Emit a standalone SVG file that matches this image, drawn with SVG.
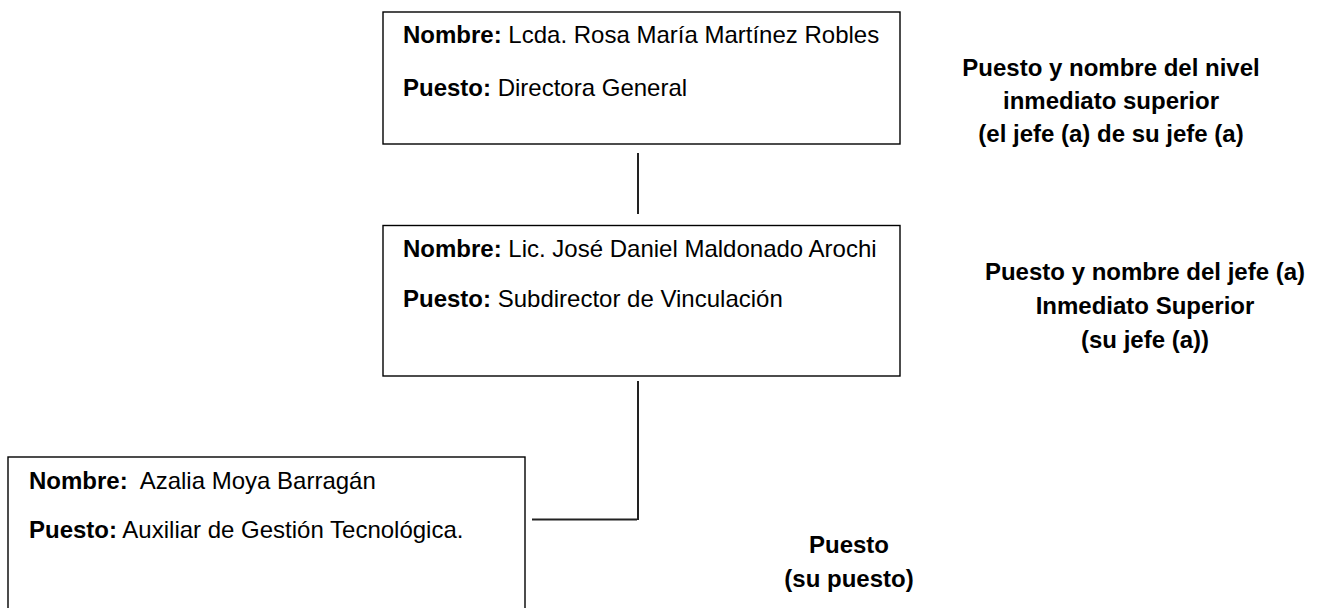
<svg xmlns="http://www.w3.org/2000/svg" width="1325" height="608" viewBox="0 0 1325 608">
<style>
.box{fill:#fff;stroke:#000;stroke-width:1.4}
.t{font-family:"Liberation Sans",Arial,sans-serif;font-size:24px;fill:#000}
.b{font-weight:bold}
.lbl{font-family:"Liberation Sans",Arial,sans-serif;font-size:24px;font-weight:bold;fill:#000;text-anchor:middle}
.con{stroke:#222;stroke-width:2;fill:none}
</style>
<rect width="1325" height="608" fill="#fff"/>
<g id="connectors">
<line class="con" x1="638" y1="153" x2="638" y2="214"/>
<polyline class="con" points="532,519.5 637,519.5"/>
<line class="con" x1="638" y1="381" x2="638" y2="520"/>
</g>
<g id="node-directora">
<rect class="box" x="383" y="12" width="517" height="132"/>
<text class="t" x="403" y="43"><tspan class="b">Nombre:</tspan> Lcda. Rosa María Martínez Robles</text>
<text class="t" x="403" y="96"><tspan class="b">Puesto:</tspan> Directora General</text>
</g>
<g id="node-subdirector">
<rect class="box" x="383" y="225.5" width="517" height="150.5"/>
<text class="t" x="403" y="257"><tspan class="b">Nombre:</tspan> Lic. José Daniel Maldonado Arochi</text>
<text class="t" x="403" y="307"><tspan class="b">Puesto:</tspan> Subdirector de Vinculación</text>
</g>
<g id="node-auxiliar">
<rect class="box" x="8" y="457" width="517" height="160"/>
<text class="t" x="29" y="489" xml:space="preserve"><tspan class="b">Nombre:</tspan>  Azalia Moya Barragán</text>
<text class="t" x="29" y="538"><tspan class="b">Puesto:</tspan> Auxiliar de Gestión Tecnológica.</text>
</g>
<g id="label-nivel-superior">
<text class="lbl" x="1111" y="76">Puesto y nombre del nivel</text>
<text class="lbl" x="1111" y="109">inmediato superior</text>
<text class="lbl" x="1111" y="142">(el jefe (a) de su jefe (a)</text>
</g>
<g id="label-jefe">
<text class="lbl" x="1145" y="280">Puesto y nombre del jefe (a)</text>
<text class="lbl" x="1145" y="314">Inmediato Superior</text>
<text class="lbl" x="1145" y="348">(su jefe (a))</text>
</g>
<g id="label-puesto">
<text class="lbl" x="849" y="553">Puesto</text>
<text class="lbl" x="849" y="587">(su puesto)</text>
</g>
</svg>
